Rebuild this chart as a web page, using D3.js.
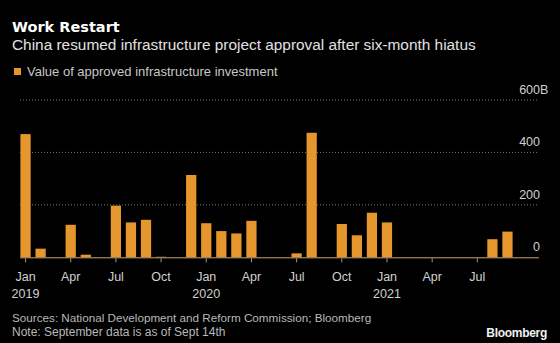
<!DOCTYPE html>
<html>
<head>
<meta charset="utf-8">
<script src="https://cdn.jsdelivr.net/npm/d3@7"></script>
<style>
  body { margin: 0; background: #000; }
  svg { display: block; font-family: "Liberation Sans", "Noto Sans", sans-serif; }
</style>
</head>
<body>
<div id="chart"></div>
<script>
// monthly values, Jan 2019 .. Sep 2021 (billion yuan)
const months = ["2019-01","2019-02","2019-03","2019-04","2019-05","2019-06","2019-07","2019-08","2019-09","2019-10","2019-11","2019-12",
                "2020-01","2020-02","2020-03","2020-04","2020-05","2020-06","2020-07","2020-08","2020-09","2020-10","2020-11","2020-12",
                "2021-01","2021-02","2021-03","2021-04","2021-05","2021-06","2021-07","2021-08","2021-09"];
const values = [470, 33, 0, 124, 10, 0, 197, 133, 143, 2, 0, 314,
                130, 100, 91, 139, 0, 0, 15, 475, 0, 127, 84, 170,
                133, 0, 0, 0, 0, 0, 0, 69, 98];
const yTicks = [0, 200, 400, 600];
const monthNames = ["Jan","Feb","Mar","Apr","May","Jun","Jul","Aug","Sep","Oct","Nov","Dec"];

const width = 560, height = 343;
const barColor = "#e5962c";

const svg = d3.select("#chart").append("svg")
    .attr("width", width)
    .attr("height", height);

svg.append("rect").attr("width", width).attr("height", height).attr("fill", "#000");

// Title block
svg.append("text")
    .attr("x", 12).attr("y", 32)
    .attr("fill", "#fff")
    .style("font-family", "'DejaVu Sans', sans-serif")
    .style("font-size", "14.5px")
    .style("font-weight", "bold")
    .text("Work Restart");
svg.append("text")
    .attr("x", 12).attr("y", 50)
    .attr("fill", "#e0e0e0")
    .style("font-size", "15.4px")
    .text("China resumed infrastructure project approval after six-month hiatus");

// Legend
svg.append("rect")
    .attr("x", 14).attr("y", 68)
    .attr("width", 7).attr("height", 7)
    .attr("fill", barColor);
svg.append("text")
    .attr("x", 27).attr("y", 76)
    .attr("fill", "#c8c8c8")
    .style("font-size", "13px")
    .text("Value of approved infrastructure investment");

// Scales
let xScale = d3.scaleBand()
    .domain(months)
    .range([18, 515])
    .paddingInner(0.32)
    .paddingOuter(0.16);

let yScale = d3.scaleLinear()
    .domain([0, 600])
    .range([257.3, 100]);

// Gridlines + y labels
svg.selectAll(".grid")
    .data(yTicks.filter(d => d > 0))
    .enter().append("line")
    .attr("x1", 20).attr("x2", 539)
    .attr("y1", d => yScale(d)).attr("y2", d => yScale(d))
    .attr("stroke", "#777")
    .attr("stroke-width", 1)
    .attr("stroke-dasharray", "1,2");

svg.selectAll(".ylab")
    .data(yTicks)
    .enter().append("text")
    .attr("x", 540)
    .attr("y", d => yScale(d) - 6)
    .attr("text-anchor", "end")
    .attr("fill", "#d0d0d0")
    .style("font-size", "12.5px")
    .text(d => d);
svg.append("text")
    .attr("x", 540)
    .attr("y", yScale(600) - 6)
    .attr("fill", "#d0d0d0")
    .style("font-size", "12.5px")
    .text("B");

// Bars
svg.selectAll(".bar")
    .data(months)
    .enter().append("rect")
    .attr("x", d => xScale(d))
    .attr("width", xScale.bandwidth())
    .attr("y", (d, i) => yScale(values[i]))
    .attr("height", (d, i) => yScale(0) - yScale(values[i]))
    .attr("fill", barColor);

// Baseline
svg.append("line")
    .attr("x1", 20).attr("x2", 539)
    .attr("y1", yScale(0) + 0.5).attr("y2", yScale(0) + 0.5)
    .attr("stroke", "#c9a577")
    .attr("stroke-width", 1);

// X ticks every quarter
let tickMonths = months.filter(m => (+m.slice(5) - 1) % 3 === 0);
svg.selectAll(".tick")
    .data(tickMonths)
    .enter().append("line")
    .attr("x1", d => xScale(d) + xScale.bandwidth() / 2)
    .attr("x2", d => xScale(d) + xScale.bandwidth() / 2)
    .attr("y1", yScale(0) + 1).attr("y2", yScale(0) + 5)
    .attr("stroke", "#999");

svg.selectAll(".xlab")
    .data(tickMonths)
    .enter().append("text")
    .attr("x", d => xScale(d) + xScale.bandwidth() / 2)
    .attr("y", 281)
    .attr("text-anchor", "middle")
    .attr("fill", "#d0d0d0")
    .style("font-size", "12.5px")
    .text(d => monthNames[+d.slice(5) - 1]);

svg.selectAll(".yearlab")
    .data(tickMonths.filter(m => m.endsWith("-01")))
    .enter().append("text")
    .attr("x", d => xScale(d) + xScale.bandwidth() / 2)
    .attr("y", 298)
    .attr("text-anchor", "middle")
    .attr("fill", "#d0d0d0")
    .style("font-size", "12.5px")
    .text(d => d.slice(0, 4));

// Footer
svg.append("text")
    .attr("x", 12).attr("y", 322)
    .attr("fill", "#b8b8b8")
    .style("font-size", "11.7px")
    .text("Sources: National Development and Reform Commission; Bloomberg");
svg.append("text")
    .attr("x", 12).attr("y", 336)
    .attr("fill", "#b8b8b8")
    .style("font-size", "12px")
    .text("Note: September data is as of Sept 14th");
svg.append("text")
    .attr("x", 547).attr("y", 337)
    .attr("text-anchor", "end")
    .attr("fill", "#f0f0f0")
    .style("font-size", "12px")
    .style("font-weight", "bold")
    .style("letter-spacing", "-0.3px")
    .text("Bloomberg");
</script>
</body>
</html>
